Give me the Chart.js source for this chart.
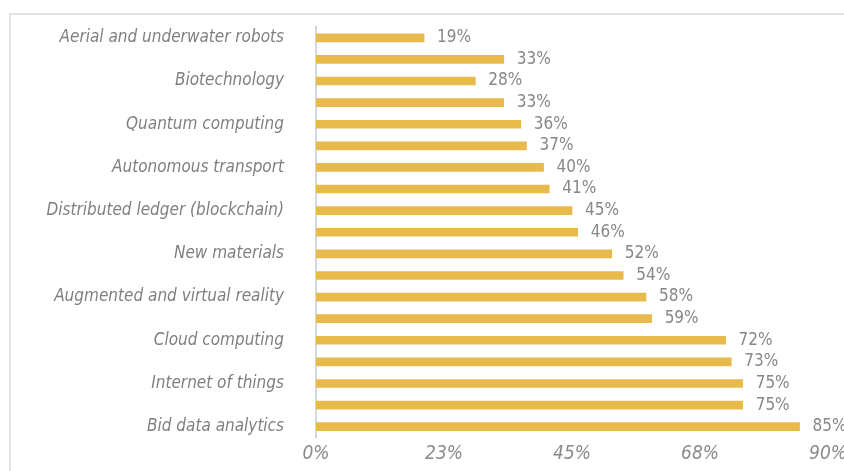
<!DOCTYPE html>
<html>
<head>
<meta charset="utf-8">
<script src="https://cdn.jsdelivr.net/npm/chart.js@4"></script>
<style>
  html, body { margin: 0; padding: 0; background: #ffffff; }
  #wrap { position: relative; width: 844px; height: 471px; overflow: hidden; }
  #frame { position: absolute; left: 9px; top: 13px; right: -10px; bottom: -10px;
           border-top: 2px solid #e2e2e2; border-left: 2px solid #e2e2e2; }
  canvas { position: absolute; left: 0; top: 0; }
</style>
</head>
<body>
<div id="wrap">
  <div id="frame"></div>
  <canvas id="c" width="844" height="471"></canvas>
</div>
<script>
// Categories (top to bottom); only every other one is labelled in the picture
const categories = [
  "Aerial and underwater robots", "",
  "Biotechnology", "",
  "Quantum computing", "",
  "Autonomous transport", "",
  "Distributed ledger (blockchain)", "",
  "New materials", "",
  "Augmented and virtual reality", "",
  "Cloud computing", "",
  "Internet of things", "",
  "Bid data analytics"
];
// Share of companies (%)
const values = [19, 33, 28, 33, 36, 37, 40, 41, 45, 46, 52, 54, 58, 59, 72, 73, 75, 75, 85];
// X-axis tick labels
const xTicks = ["0%", "23%", "45%", "68%", "90%"];

const FONT = "'Liberation Sans Narrow', 'DejaVu Sans Condensed', 'Roboto', sans-serif";

const valueLabels = {
  id: 'valueLabels',
  afterDatasetsDraw(chart) {
    const ctx = chart.ctx;
    const meta = chart.getDatasetMeta(0);
    ctx.save();
    ctx.font = "17px " + FONT;
    ctx.fillStyle = "#878787";
    ctx.textAlign = "left";
    ctx.textBaseline = "middle";
    meta.data.forEach((bar, i) => {
      ctx.fillText(values[i] + "%", bar.x + 13, bar.y);
    });
    ctx.restore();
  }
};

function noPad(scale) {
  scale.paddingTop = 0; scale.paddingBottom = 0;
  scale.paddingLeft = 0; scale.paddingRight = 0;
}

new Chart(document.getElementById('c'), {
  type: 'bar',
  data: {
    labels: categories,
    datasets: [{
      data: values,
      backgroundColor: '#e8b94b',
      borderWidth: 0,
      barThickness: 8
    }]
  },
  options: {
    indexAxis: 'y',
    responsive: false,
    animation: false,
    layout: { padding: { top: 27, right: 16, left: 0, bottom: 0 } },
    plugins: { legend: { display: false }, tooltip: { enabled: false } },
    scales: {
      x: {
        min: 0, max: 90,
        grid: { display: false, drawTicks: false },
        border: { display: false },
        afterFit(scale) { scale.height = 33.5; noPad(scale); },
        afterBuildTicks(scale) {
          scale.ticks = xTicks.map((t, i) => ({ value: i * 22.5 }));
        },
        ticks: {
          padding: 5,
          color: '#8a8a8a',
          font: { family: FONT, size: 19, style: 'italic' },
          maxRotation: 0,
          callback: (v, i) => xTicks[i]
        }
      },
      y: {
        grid: { display: false, drawTicks: false },
        border: { display: true, color: '#d3d9e0', width: 2 },
        afterFit(scale) { scale.width = 316; noPad(scale); },
        ticks: {
          autoSkip: false,
          padding: 32,
          color: '#7f7f7f',
          font: { family: FONT, size: 17, style: 'italic' },
          callback: (v, i) => categories[i]
        }
      }
    }
  },
  plugins: [valueLabels]
});
</script>
</body>
</html>
